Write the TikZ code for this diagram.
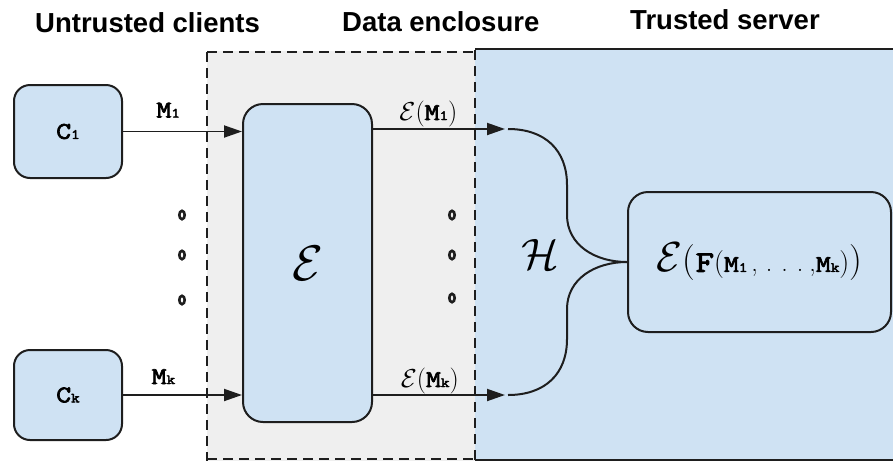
\RequirePackage{fix-cm}
\documentclass[tikz,border=0pt]{standalone}
\usepackage{fontspec}
\usetikzlibrary{arrows.meta}
\newfontfamily\headfont{Liberation Sans}
\newfontfamily\slabfont[FakeBold=3,FakeStretch=1.2]{Latin Modern Mono}
\definecolor{boxblue}{HTML}{CFE2F3}
\definecolor{zonegray}{HTML}{EFEFEF}
\definecolor{ink}{HTML}{1E1E1E}
\newcommand{\sub}[1]{{\fontsize{14}{14}\selectfont #1}}
\newcommand{\msg}[1]{{\slabfont\fontsize{24}{24}\selectfont M\sub{#1}}}
\newcommand{\enc}[1]{{\fontsize{#1}{#1}\selectfont$\mathcal{E}$}}
\newcommand{\paren}[2]{{\fontsize{#1}{#1}\selectfont #2}}
\begin{document}
\begin{tikzpicture}[x=1pt,y=-1pt,
  title/.style={font=\headfont\bfseries\fontsize{27.5}{30}\selectfont, anchor=base west, inner sep=0},
  party/.style={draw=ink, line width=2pt, fill=boxblue, rounded corners=16pt, inner sep=0},
  zoneline/.style={draw=ink, line width=2.5pt, dash pattern=on 10pt off 6pt},
  flow/.style={draw=ink, line width=1.9pt, -{Triangle[length=18pt,width=12pt]}},
  brace/.style={draw=ink, line width=2pt},
  lbl/.style={inner sep=0, anchor=base},
  dot/.style={draw=ink, line width=2.6pt, x radius=2.7pt, y radius=4.2pt}]
\useasboundingbox (0,0) rectangle (893,461);

% zones
\fill[zonegray] (207,51) rectangle (475,461);
\fill[boxblue] (475,49) rectangle (893,461);
\draw[ink, line width=2pt] (475,49) -- (893,49);
\draw[ink, line width=2pt] (475,460) -- (893,460);
\draw[zoneline] (207,52) -- (475,52);
\draw[zoneline] (207,459) -- (475,459);
\draw[zoneline] (207,52) -- (207,461);
\draw[zoneline] (475,50) -- (475,461);

% headings
\node[title] (tu) at (35,32) {Untrusted clients};
\node[title] (td) at (342,31) {Data enclosure};
\node[title] (tt) at (630,29) {Trusted server};

% boxes
\node[party, minimum width=108pt, minimum height=93pt] (c1) at (68,131.5)
  {\slabfont\fontsize{24}{24}\selectfont C\sub{1}};
\node[party, minimum width=108pt, minimum height=90pt] (ck) at (68,395)
  {\slabfont\fontsize{24}{24}\selectfont C\sub{k}};
\node[party, rounded corners=20pt, minimum width=129pt, minimum height=318pt] (enc) at (307.5,263)
  {\enc{50}};
\node[party, rounded corners=20pt, minimum width=263pt, minimum height=140pt] (res) at (759.5,262)
  {\enc{42}\paren{36}{(}%
   {\slabfont\fontsize{30}{30}\selectfont F}\paren{28}{(}%
   \msg{1}\hspace{4pt}\paren{26}{,\hspace{8pt}.\hspace{9pt}.\hspace{9pt}.\hspace{6pt},}\msg{k}%
   \paren{28}{)}\paren{36}{)}};

% client messages
\draw[flow] (c1.east) -- (c1.east -| enc.west) node[lbl, pos=0.38, yshift=14pt] (m1) {\msg{1}};
\draw[flow] (ck.east) -- (ck.east -| enc.west) node[lbl, pos=0.34, yshift=11pt] (mk) {\msg{k}};

% encrypted messages
\coordinate (h1) at (505,129);
\coordinate (hk) at (505,395);
\draw[flow] (enc.east |- h1) -- (h1) node[lbl, pos=0.42, yshift=9pt] (em1)
  {\enc{26}\paren{26}{(}\msg{1}\paren{26}{)}};
\draw[flow] (enc.east |- hk) -- (hk) node[lbl, pos=0.43, yshift=8pt] (emk)
  {\enc{26}\paren{26}{(}\msg{k}\paren{26}{)}};

% homomorphic combination
\draw[brace] ([xshift=3pt]h1) .. controls (545,129) and (567,150) .. (567,185)
  -- (567,215) .. controls (567,245) and (595,262) .. (res.west);
\draw[brace] ([xshift=3pt]hk) .. controls (545,395) and (567,374) .. (567,339)
  -- (567,309) .. controls (567,279) and (595,262) .. (res.west);
\node[inner sep=0] (hh) at (540,254) {\fontsize{44}{44}\selectfont$\mathcal{H}$};

% ellipsis marks
\draw[dot] (182,215) ellipse [];
\draw[dot] (182,255) ellipse [];
\draw[dot] (182,300) ellipse [];
\draw[dot] (452,215) ellipse [];
\draw[dot] (452,255) ellipse [];
\draw[dot] (452,298) ellipse [];
\end{tikzpicture}
\end{document}
